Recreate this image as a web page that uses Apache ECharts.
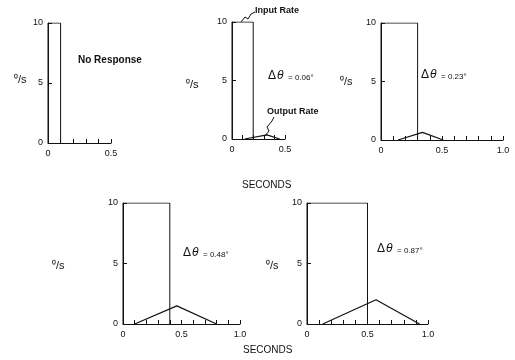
<!DOCTYPE html>
<html>
<head>
<meta charset="utf-8">
<script src="https://cdn.jsdelivr.net/npm/echarts@6/dist/echarts.min.js"></script>
<style>
html, body { margin: 0; padding: 0; background: #fff; }
#chart { width: 515px; height: 360px; }
</style>
</head>
<body>
<div id="chart"></div>
<script>
// input pulse (deg/s) and its duration per panel
var inputRate = 10;
var pulseEnd = [0.1, 0.2, 0.3, 0.4, 0.5];
// output rate triangle: start, peak time, peak value, end
var outStart = [null, 0.12, 0.14, 0.10, 0.13];
var outPeakT = [null, 0.33, 0.34, 0.46, 0.57];
var outPeak = [null, 0.35, 0.65, 1.5, 2.0];
var outEnd = [null, 0.45, 0.51, 0.80, 0.93];
var xMax = [0.5, 0.5, 1.0, 1.0, 1.0];
var deltaTheta = ['', '0.06°', '0.23°', '0.48°', '0.87°'];

var grids = [
    { left: 48, top: 23, width: 63, height: 120 },
    { left: 232, top: 22, width: 53, height: 117 },
    { left: 381, top: 23, width: 122, height: 117 },
    { left: 123, top: 203, width: 117, height: 121 },
    { left: 307, top: 203, width: 121, height: 121 }
];

var font = 'Liberation Sans, Arial, sans-serif';
var black = '#111';

function xFmt(v) {
    var r = Math.round(v * 10) / 10;
    if (r === 0) return '0';
    if (r === 0.5) return '0.5';
    if (r === 1) return '1.0';
    return '';
}

var xAxes = [], yAxes = [], series = [];
for (var i = 0; i < 5; i++) {
    xAxes.push({
        gridIndex: i, type: 'value', min: 0, max: xMax[i], interval: 0.1,
        axisLine: { lineStyle: { color: black, width: 1 } },
        axisTick: { inside: true, length: 4, lineStyle: { color: black } },
        axisLabel: { formatter: xFmt, color: black, fontSize: 9, fontFamily: font, margin: 6 },
        splitLine: { show: false }
    });
    yAxes.push({
        gridIndex: i, type: 'value', min: 0, max: 10, interval: 5,
        axisLine: { show: true, lineStyle: { color: black, width: 1 } },
        axisTick: { show: true, inside: true, length: 4, lineStyle: { color: black } },
        axisLabel: { color: black, fontSize: 9, fontFamily: font, margin: 5 },
        splitLine: { show: false }
    });
    series.push({
        type: 'line', xAxisIndex: i, yAxisIndex: i, symbol: 'none', animation: false,
        lineStyle: { color: black, width: 1 },
        data: [[0, 0], [0, inputRate], [pulseEnd[i], inputRate], [pulseEnd[i], 0]]
    });
    if (outStart[i] !== null) {
        series.push({
            type: 'line', xAxisIndex: i, yAxisIndex: i, symbol: 'none', animation: false,
            lineStyle: { color: black, width: 1.2 },
            data: [[outStart[i], 0], [outPeakT[i], outPeak[i]], [outEnd[i], 0]]
        });
    }
}

function txt(x, y, s, size, bold, extra) {
    var st = { text: s, fill: black, fontSize: size, fontFamily: font, fontWeight: bold ? 'bold' : 'normal' };
    if (extra) for (var k in extra) st[k] = extra[k];
    return { type: 'text', left: x, top: y, style: st };
}

var yLabelPos = [[14, 74], [186, 79], [340, 76], [52, 260], [266, 260]];
var dtPos = [null, [268, 74], [421, 73], [183, 251], [377, 247]];

var graphics = [];
for (var j = 0; j < 5; j++) {
    graphics.push(txt(yLabelPos[j][0], yLabelPos[j][1], '⁰/s', 11, false));
    if (dtPos[j]) {
        graphics.push(txt(dtPos[j][0], dtPos[j][1] - 4, 'Δ', 12, false));
        graphics.push(txt(dtPos[j][0] + 9, dtPos[j][1] - 4, 'θ', 12, false, { fontStyle: 'italic' }));
        graphics.push(txt(dtPos[j][0] + 20, dtPos[j][1], '= ' + deltaTheta[j], 8, false));
    }
}
graphics.push(txt(78, 55, 'No Response', 10, true));
graphics.push(txt(255, 6, 'Input Rate', 9, true));
graphics.push(txt(267, 107, 'Output Rate', 9, true));
graphics.push(txt(242, 180, 'SECONDS', 10, false));
graphics.push(txt(243, 345, 'SECONDS', 10, false));
graphics.push({
    type: 'polyline',
    shape: { points: [[241, 22], [245, 17], [248, 19], [251, 14], [255, 12]] },
    style: { stroke: black, fill: null, lineWidth: 1 }
});
graphics.push({
    type: 'polyline',
    shape: { points: [[264, 137], [269, 131], [267, 127], [272, 121], [274, 117]] },
    style: { stroke: black, fill: null, lineWidth: 1 }
});

var myChart = echarts.init(document.getElementById('chart'));
myChart.setOption({
    backgroundColor: '#fff',
    animation: false,
    grid: grids,
    xAxis: xAxes,
    yAxis: yAxes,
    series: series,
    graphic: graphics
});
</script>
</body>
</html>
